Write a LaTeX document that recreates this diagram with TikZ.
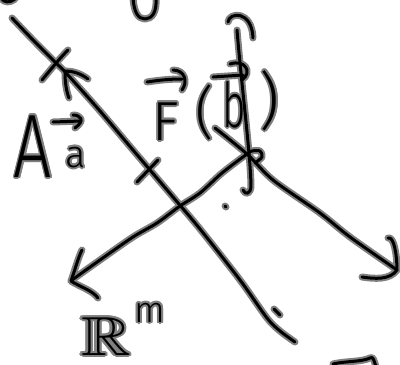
\documentclass[tikz,border=0pt]{standalone}
\usepackage{fontspec}
\setmainfont{Fira Sans}
\newfontfamily\handfont{Fira Sans Light}
\usepackage{amssymb}
\usepackage{contour}
\contourlength{2pt}
\contournumber{12}
\newcommand\mystrokes[1]{%
\draw[#1] (1,-2) .. controls (4,3) and (10,3) .. (15,-1);
\draw[#1] (133,-2) .. controls (134,12) and (138,19) .. (145,19) .. controls (152,19) and (157,12) .. (156,-2);
\draw[#1] plot[smooth] coordinates {(12,18)(33,40)(55,62)(67,74)(100,111)(133,150)(173,197)(200,229)(240,280)(267,318)(280,331)(295,342)};
\draw[#1] (42,80) .. controls (52,68) and (60,58) .. (68,50);
\draw[#1] (88,79) .. controls (80,73) and (72,71) .. (65,71) .. controls (65,82) and (66,90) .. (69,98);
\draw[#1] (137,182) -- (158,160);
\draw[#1] (53,122) -- (81,121);
\draw[#1] (73,115) .. controls (80,115) and (86,120) .. (75,128);
\draw[#1] (147,82) .. controls (160,80) and (170,79) .. (182,79);
\draw[#1] (173,70) .. controls (185,70) and (188,82) .. (182,90);
\draw[#1] (213,77) -- (243,75);
\draw[#1] (230,64) .. controls (245,59) and (253,72) .. (242,80);
\draw[#1] (228,22) .. controls (229,12) and (252,10) .. (253,38);
\draw[#1] (237,30) .. controls (242,90) and (250,150) .. (251,185) .. controls (251,195) and (245,195) .. (243,190);
\draw[#1] plot[smooth] coordinates {(215,128)(247,154)(273,180)(320,213)(350,237)(397,270)};
\draw[#1] (388,238) .. controls (394,236) and (397,255) .. (397,270) .. controls (390,280) and (375,279) .. (362,277);
\draw[#1] plot[smooth] coordinates {(255,163)(262,157)(260,151)(252,151)(247,154)(222,173)(200,193)(180,206)(157,223)(133,237)(100,260)(72,280)};
\draw[#1] (82,250) .. controls (78,258) and (75,270) .. (71,281) .. controls (80,287) and (92,290) .. (98,298);
\draw[#1] (225,206) -- (226,207);
\draw[#1] (274,309) -- (280,315);
\draw[#1] (333,364) .. controls (345,361) and (362,362) .. (370,358) .. controls (373,356) and (374,360) .. (376,367);
}
\begin{document}
\begin{tikzpicture}[x=1pt,y=-1pt,
  halo/.style={line width=7pt, draw=black!50, line cap=round, line join=round},
  ink/.style={line width=3pt, draw=black, line cap=round, line join=round},
  lbl/.style={inner sep=0pt, anchor=base, text=black}]
\fill[white] (0,0) rectangle (400,365);
\useasboundingbox (0,0) rectangle (400,365);
\mystrokes{halo}
\node[lbl, font=\handfont\fontsize{90}{90}\selectfont] (A) at (33,177) {\scalebox{0.75}[1]{\contour{black!50}{A}}};
\node[lbl, font=\handfont\fontsize{38}{38}\selectfont] (avec) at (76,167) {\contour{black!50}{a}};
\node[lbl, font=\handfont\fontsize{55}{55}\selectfont] (F) at (166,140) {\contour{black!50}{F}};
\node[lbl, font=\handfont\fontsize{57}{57}\selectfont] (lp) at (205,132) {\contour{black!50}{(}};
\node[lbl, font=\handfont\fontsize{62}{62}\selectfont] (b) at (234,127) {\scalebox{0.65}[1]{\contour{black!50}{b}}};
\node[lbl, font=\handfont\fontsize{62}{62}\selectfont] (rp) at (270,122) {\contour{black!50}{)}};
\node[lbl, font=\fontsize{55}{55}\selectfont] (R) at (106,355) {\scalebox{1.25}[1]{\contour{black!50}{$\mathbb{R}$}}};
\node[lbl, font=\handfont\fontsize{36}{36}\selectfont] (m) at (150,322) {\contour{black!50}{m}};
\mystrokes{ink}
\end{tikzpicture}
\end{document}
